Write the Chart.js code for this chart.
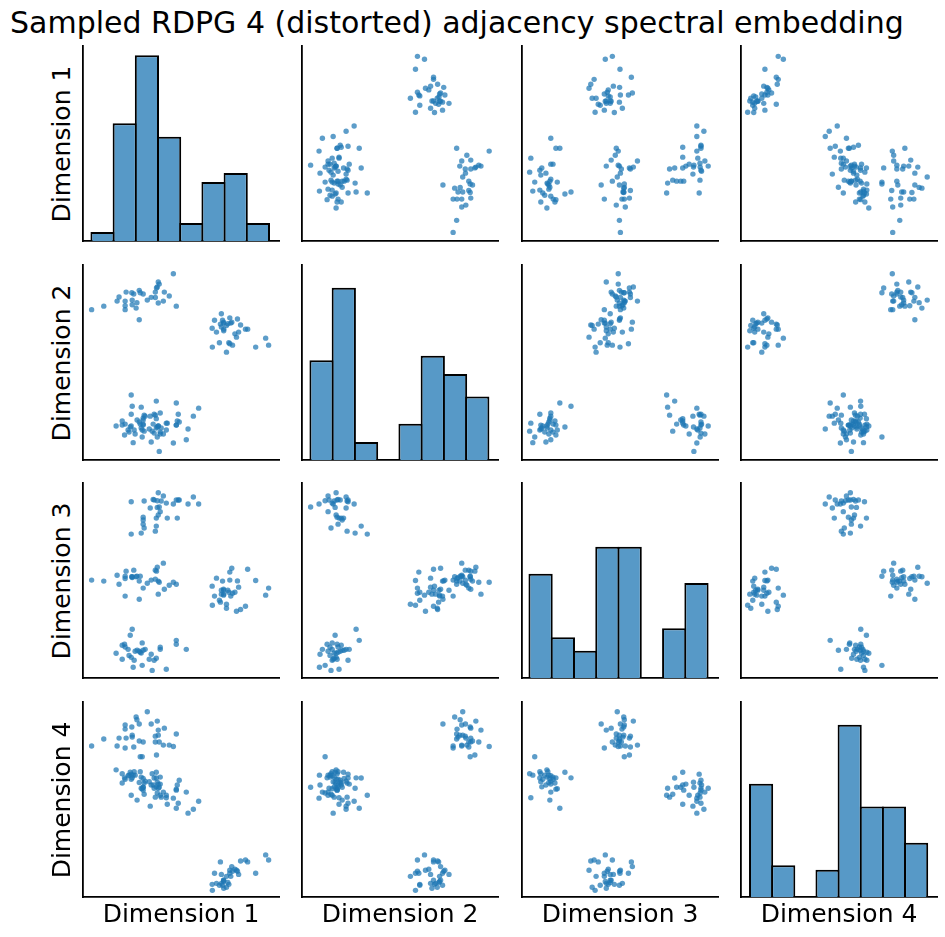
<!DOCTYPE html>
<html>
<head>
<meta charset="utf-8">
<script src="https://cdn.jsdelivr.net/npm/chart.js@4.4.0/dist/chart.umd.min.js"></script>
<style>
  html, body { margin: 0; padding: 0; background: #fff; }
  #fig { position: relative; width: 945px; height: 937px; overflow: hidden;
         font-family: 'DejaVu Sans', sans-serif; color: #000; }
  .panel { position: absolute; }
  .title { position: absolute; left: 10px; top: 5px; font-size: 30px; line-height: 36px; white-space: nowrap; }
  .xlab, .ylab { position: absolute; width: 300px; font-size: 25px; line-height: 30px;
                 text-align: center; white-space: nowrap; }
  .ylab { transform: rotate(-90deg); }
</style>
</head>
<body>
<div id="fig"></div>
<script>
// ── Data ─────────────────────────────────────────────────────────────────────

const TITLE = 'Sampled RDPG 4 (distorted) adjacency spectral embedding';
const dimLabels = ['Dimension 1', 'Dimension 2', 'Dimension 3', 'Dimension 4'];

// embedded nodes, 4 communities x 32 (values in axis units, 0..1 of each panel)
const dim1 = [
  0.044, 0.106, 0.174, 0.184, 0.215, 0.215, 0.215, 0.220, 0.249, 0.251, 0.251, 0.259, 0.275, 0.271, 0.287, 0.287,
  0.292, 0.307, 0.328, 0.348, 0.369, 0.369, 0.375, 0.379, 0.384, 0.384, 0.389, 0.410, 0.415, 0.440, 0.461, 0.476,
  0.659, 0.660, 0.671, 0.681, 0.696, 0.701, 0.706, 0.706, 0.712, 0.717, 0.717, 0.718, 0.718, 0.732, 0.732, 0.739,
  0.744, 0.749, 0.749, 0.754, 0.759, 0.763, 0.775, 0.783, 0.788, 0.794, 0.804, 0.829, 0.840, 0.881, 0.932, 0.947,
  0.353, 0.425, 0.256, 0.302, 0.261, 0.363, 0.200, 0.338, 0.374, 0.246, 0.235, 0.348, 0.169, 0.297, 0.292, 0.266,
  0.287, 0.276, 0.307, 0.230, 0.317, 0.394, 0.527, 0.394, 0.215, 0.200, 0.212, 0.476, 0.302, 0.476, 0.241, 0.251,
  0.384, 0.410, 0.563, 0.358, 0.363, 0.476, 0.486, 0.491, 0.379, 0.312, 0.399, 0.246, 0.425, 0.461, 0.536, 0.590,
  0.389, 0.379, 0.343, 0.394, 0.384, 0.307, 0.374, 0.430, 0.481, 0.307, 0.307, 0.374, 0.312, 0.369, 0.297, 0.246,
];
const dim2 = [
  0.771, 0.789, 0.815, 0.836, 0.815, 0.791, 0.771, 0.861, 0.858, 0.820, 0.796, 0.851, 0.807, 0.779, 0.870, 0.719,
  0.858, 0.851, 0.820, 0.834, 0.833, 0.861, 0.882, 0.887, 0.913, 0.805, 0.902, 0.815, 0.861, 0.841, 0.955, 0.789,
  0.676, 0.579, 0.717, 0.656, 0.601, 0.697, 0.750, 0.682, 0.717, 0.707, 0.702, 0.671, 0.663, 0.553, 0.690, 0.699,
  0.601, 0.729, 0.596, 0.702, 0.707, 0.589, 0.647, 0.630, 0.723, 0.656, 0.692, 0.671, 0.671, 0.579, 0.625, 0.589,
  0.148, 0.189, 0.089, 0.118, 0.154, 0.235, 0.179, 0.159, 0.164, 0.174, 0.143, 0.092, 0.174, 0.164, 0.184, 0.133,
  0.195, 0.205, 0.215, 0.154, 0.225, 0.241, 0.104, 0.143, 0.184, 0.200, 0.128, 0.179, 0.154, 0.292, 0.169, 0.276,
  0.174, 0.133, 0.225, 0.184, 0.138, 0.179, 0.235, 0.195, 0.118, 0.230, 0.164, 0.235, 0.154, 0.087, 0.159, 0.266,
  0.044, 0.169, 0.225, 0.133, 0.174, 0.179, 0.212, 0.189, 0.200, 0.205, 0.184, 0.302, 0.148, 0.230, 0.271, 0.333,
];
const dim3 = [
  0.502, 0.497, 0.527, 0.481, 0.522, 0.510, 0.420, 0.548, 0.519, 0.519, 0.515, 0.553, 0.522, 0.519, 0.497, 0.404,
  0.522, 0.461, 0.486, 0.502, 0.553, 0.507, 0.548, 0.568, 0.430, 0.497, 0.491, 0.589, 0.455, 0.476, 0.491, 0.481,
  0.471, 0.373, 0.420, 0.512, 0.399, 0.389, 0.450, 0.430, 0.497, 0.455, 0.425, 0.450, 0.430, 0.378, 0.358, 0.450,
  0.440, 0.502, 0.543, 0.420, 0.563, 0.435, 0.440, 0.342, 0.498, 0.466, 0.351, 0.368, 0.558, 0.500, 0.425, 0.461,
  0.039, 0.045, 0.055, 0.065, 0.091, 0.091, 0.096, 0.096, 0.101, 0.106, 0.116, 0.122, 0.127, 0.128, 0.132, 0.137,
  0.137, 0.142, 0.142, 0.147, 0.147, 0.147, 0.147, 0.158, 0.159, 0.168, 0.173, 0.173, 0.180, 0.193, 0.219, 0.250,
  0.950, 0.933, 0.928, 0.916, 0.913, 0.913, 0.913, 0.913, 0.909, 0.908, 0.908, 0.904, 0.897, 0.892, 0.892, 0.892,
  0.877, 0.875, 0.872, 0.853, 0.836, 0.825, 0.820, 0.820, 0.820, 0.810, 0.789, 0.779, 0.769, 0.753, 0.743, 0.738,
];
const dim4 = [
  0.774, 0.810, 0.774, 0.815, 0.882, 0.861, 0.764, 0.815, 0.872, 0.830, 0.820, 0.769, 0.909, 0.923, 0.800, 0.887,
  0.719, 0.795, 0.950, 0.887, 0.825, 0.795, 0.728, 0.902, 0.856, 0.830, 0.795, 0.779, 0.866, 0.779, 0.772, 0.836,
  0.065, 0.034, 0.122, 0.070, 0.060, 0.180, 0.116, 0.070, 0.060, 0.086, 0.080, 0.086, 0.045, 0.106, 0.050, 0.075,
  0.065, 0.137, 0.122, 0.106, 0.156, 0.132, 0.142, 0.137, 0.132, 0.116, 0.185, 0.190, 0.180, 0.122, 0.216, 0.190,
  0.632, 0.509, 0.625, 0.719, 0.642, 0.610, 0.632, 0.591, 0.565, 0.604, 0.625, 0.574, 0.652, 0.615, 0.642, 0.625,
  0.587, 0.497, 0.608, 0.622, 0.594, 0.579, 0.538, 0.615, 0.604, 0.585, 0.611, 0.553, 0.555, 0.455, 0.640, 0.611,
  0.558, 0.538, 0.450, 0.574, 0.558, 0.548, 0.481, 0.599, 0.533, 0.584, 0.512, 0.630, 0.522, 0.507, 0.430, 0.491,
  0.563, 0.589, 0.466, 0.522, 0.579, 0.548, 0.640, 0.476, 0.574, 0.563, 0.563, 0.610, 0.527, 0.512, 0.558, 0.522,
];

// diagonal histograms: 8 bins spanning each dimension's data range
const hist1 = [2, 26, 41, 23, 4, 13, 15, 4];
const hist2 = [22, 38, 4, 0, 8, 23, 19, 14];
const hist3 = [23, 9, 6, 29, 29, 0, 11, 21];
const hist4 = [25, 7, 0, 6, 38, 20, 20, 12];
const dimMin = [0.043, 0.043, 0.038, 0.046];
const dimMax = [0.949, 0.951, 0.947, 0.950];

// ── Layout / style ───────────────────────────────────────────────────────────

const PANEL_X = [83, 302, 522, 741];
const PANEL_Y = [46, 265, 483, 702];
const PANEL_W = 196;
const PANEL_H = 195;
const PAD = 4;
const SPINE_W = 1.8;
const EDGE_W = 2;
const PT_COLOR = 'rgba(31,119,180,0.72)';
const BAR_COLOR = '#5799c7';

const dims = [dim1, dim2, dim3, dim4];
const hists = [hist1, hist2, hist3, hist4];
const HIST_TOP = 1.05 * Math.max(...hists.flat());

// ── Helpers ──────────────────────────────────────────────────────────────────

function axis(min, max) {
  return {
    type: 'linear', min, max, offset: false,
    grid: { display: false, drawTicks: false },
    ticks: { display: false },
    border: { display: true, color: '#000', width: SPINE_W },
  };
}

function baseOptions(x, y) {
  return {
    responsive: false,
    animation: false,
    events: [],
    layout: { padding: PAD },
    plugins: { legend: { display: false }, tooltip: { enabled: false } },
    scales: { x, y },
  };
}

function scatterPanel(canvas, xs, ys) {
  return new Chart(canvas, {
    type: 'scatter',
    data: {
      datasets: [{
        data: xs.map((x, i) => ({ x, y: ys[i] })),
        backgroundColor: PT_COLOR,
        pointRadius: 2.7,
        pointHoverRadius: 2.7,
        pointBorderWidth: 0,
      }],
    },
    options: baseOptions(axis(0, 1), axis(0, 1)),
  });
}

function histPanel(canvas, counts, lo, hi) {
  const w = (hi - lo) / counts.length;
  const binPx = w * PANEL_W;
  return new Chart(canvas, {
    type: 'bar',
    data: {
      datasets: [{
        data: counts.map((c, i) => ({ x: lo + (i + 0.5) * w, y: c })),
        backgroundColor: BAR_COLOR,
        borderColor: '#000',
        borderWidth: EDGE_W,
        borderSkipped: 'start',
        inflateAmount: 0,
        barPercentage: 1 + EDGE_W / binPx,
        categoryPercentage: 1,
      }],
    },
    options: baseOptions(axis(0, 1), axis(0, HIST_TOP)),
  });
}

function makeEl(cls, text, css) {
  const el = document.createElement('div');
  el.className = cls;
  if (text != null) el.textContent = text;
  if (css) el.style.cssText = css;
  return el;
}

// ── Render ───────────────────────────────────────────────────────────────────

const fig = document.getElementById('fig');
fig.appendChild(makeEl('title', TITLE));

for (let r = 0; r < 4; r++) {
  for (let c = 0; c < 4; c++) {
    const box = makeEl('panel', null,
      `left:${PANEL_X[c] - PAD}px;top:${PANEL_Y[r] - PAD}px;`);
    const cv = document.createElement('canvas');
    cv.width = PANEL_W + 2 * PAD;
    cv.height = PANEL_H + 2 * PAD;
    cv.style.width = cv.width + 'px';
    cv.style.height = cv.height + 'px';
    box.appendChild(cv);
    fig.appendChild(box);
    if (r === c) histPanel(cv, hists[c], dimMin[c], dimMax[c]);
    else scatterPanel(cv, dims[c], dims[r]);
  }
}

dimLabels.forEach((lab, i) => {
  fig.appendChild(makeEl('xlab', lab,
    `left:${PANEL_X[i] + PANEL_W / 2 - 150}px;top:899px;`));
  fig.appendChild(makeEl('ylab', lab,
    `left:${62 - 150}px;top:${PANEL_Y[i] + PANEL_H / 2 - 15}px;`));
});
</script>
</body>
</html>
